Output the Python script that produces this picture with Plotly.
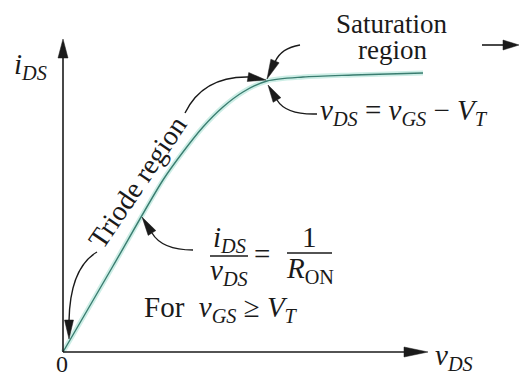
import math
import plotly.graph_objects as go

# ---- data (curve of the MOSFET characteristic, arbitrary units) ----
v_ds = [0, 50, 100, 120, 140, 160, 180, 204, 240, 290, 360]
i_ds = [0, 86, 172, 200, 225, 245, 260, 271, 275, 277, 279]

W, H = 520, 376
OX, OY = 63, 352  # pixel position of the origin


def P(px, py):
    return px - OX, OY - py


FONT = "Liberation Serif"
FS = 28      # plain text
FM = 29      # math text
BLACK = "#1a1a1a"

fig = go.Figure()

# curve: light halo + dark core
fig.add_trace(go.Scatter(x=v_ds, y=i_ds, mode="lines", line=dict(color="#cdeee6", width=5, shape="spline", smoothing=0.8),
                         hoverinfo="skip", showlegend=False))
fig.add_trace(go.Scatter(x=v_ds, y=i_ds, mode="lines", line=dict(color="#3a7d70", width=1.4, shape="spline", smoothing=0.8),
                         hoverinfo="skip", showlegend=False))

shapes = []


def line(p1, p2, w=1.6):
    x0, y0 = P(*p1)
    x1, y1 = P(*p2)
    shapes.append(dict(type="line", x0=x0, y0=y0, x1=x1, y1=y1, xref="x", yref="y",
                       line=dict(color=BLACK, width=w)))


def head(base, tip, hw=4.5):
    bx, by = P(*base)
    tx, ty = P(*tip)
    dx, dy = tx - bx, ty - by
    L = math.hypot(dx, dy)
    nx, ny = -dy / L * hw, dx / L * hw
    path = f"M{tx},{ty} L{bx + nx},{by + ny} L{bx - nx},{by - ny} Z"
    shapes.append(dict(type="path", path=path, xref="x", yref="y", fillcolor=BLACK,
                       line=dict(color=BLACK, width=0.5)))


def qcurve(p0, c, p1, w=1.4):
    a, b, d = P(*p0), P(*c), P(*p1)
    path = f"M{a[0]},{a[1]} Q{b[0]},{b[1]} {d[0]},{d[1]}"
    shapes.append(dict(type="path", path=path, xref="x", yref="y",
                       line=dict(color=BLACK, width=w)))


# axes
line((63, 352), (63, 58))
head((63, 58), (63, 39), hw=5)
line((63, 352), (406, 352))
head((404, 352), (428, 352), hw=5)

# arrow at top right (region continues)
line((482, 45), (504, 45))
head((503, 45), (519, 45), hw=5)

# leaders
qcurve((185, 113), (203, 76), (249, 77))
head((248, 77), (266, 80))
qcurve((97, 252), (70, 268), (69, 321))
head((69, 320), (69, 339))
qcurve((300, 45), (281, 48), (275, 62))
head((275, 61), (267, 79))
qcurve((317, 114), (286, 115), (277, 100))
head((277, 100), (268, 85))
qcurve((193, 250), (162, 250), (152, 233))
head((152, 233), (142, 217))

# fraction bars
line((210, 256), (248, 256), w=1.3)
line((287, 253), (332, 253), w=1.3)

fig.update_layout(shapes=shapes)

ann = []


def text(px, py, s, angle=0, size=FS, xa="center"):
    x, y = P(px, py)
    ann.append(dict(x=x, y=y, xref="x", yref="y", text=s, showarrow=False, textangle=angle,
                    font=dict(family=FONT, size=size, color=BLACK), xanchor=xa, yanchor="middle"))


text(30, 66, "<i>i<sub>DS</sub></i>", size=FM)
text(391, 24, "Saturation", size=27)
text(392, 50, "region", size=27)
text(318, 112, "<i>v<sub>DS</sub></i> = <i>v<sub>GS</sub></i> − <i>V<sub>T</sub></i>", size=FM, xa="left")
text(137, 182, "Triode region", angle=-56)
text(229, 239, "<i>i<sub>DS</sub></i>", size=FM)
text(229, 272, "<i>v<sub>DS</sub></i>", size=FM)
text(262, 254, "=", size=FM)
text(309, 237, "1", size=FM)
text(310, 270, "<i>R</i><sub>ON</sub>", size=FM)
text(142, 309, "For\u00a0\u00a0<i>v<sub>GS</sub></i> ≥ <i>V<sub>T</sub></i>", size=FM, xa="left")
text(62, 364, "0", size=24)
text(433, 357, "<i>v<sub>DS</sub></i>", size=FM, xa="left")

fig.update_layout(annotations=ann)

fig.update_layout(
    width=W, height=H,
    margin=dict(l=0, r=0, t=0, b=0),
    paper_bgcolor="white", plot_bgcolor="white",
    xaxis=dict(range=[-OX, W - OX], visible=False, fixedrange=True),
    yaxis=dict(range=[OY - H, OY], visible=False, fixedrange=True),
    showlegend=False,
)

fig.write_html("out.html", config={"displayModeBar": False},
               post_script="document.body.style.margin='0';document.body.style.overflow='hidden';")
